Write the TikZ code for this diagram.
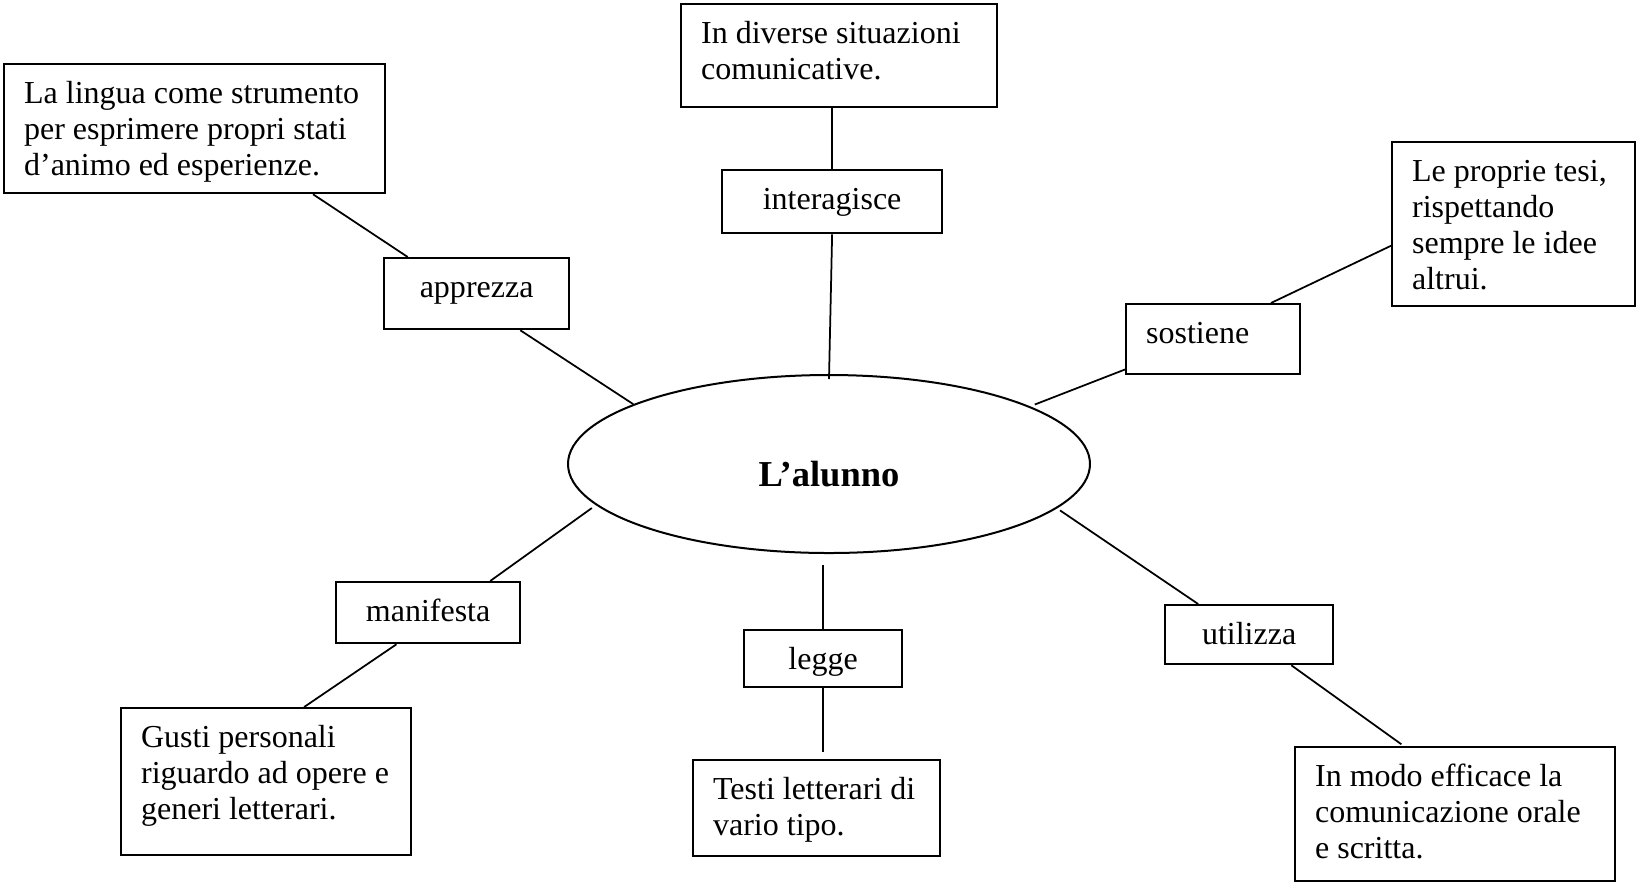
\documentclass[tikz,border=0pt]{standalone}
\usepackage{fontspec}
\setmainfont{Liberation Serif}
\usetikzlibrary{shapes.geometric}
\tikzset{
  txtbox/.style 2 args={draw, line width=0.9pt, anchor=north west, align=flush left,
    inner xsep=8pt, inner ysep=0pt, text width=#1, text height=15.6pt, text depth=#2},
  verbbox/.style 2 args={txtbox={#1}{#2}, align=flush center},
  link/.style={line width=0.7pt}
}
\begin{document}
\begin{tikzpicture}[x=0.4pt, y=-0.4pt, font=\fontsize{12.8}{14.5}\selectfont]
\useasboundingbox (0,0) rectangle (1636,883);
\node[draw, ellipse, line width=0.8pt, minimum width=208.8pt, minimum height=71.2pt, inner sep=0pt,
  font=\fontsize{14.6}{16}\selectfont\bfseries, text height=17.6pt, text depth=0pt] (alunno) at (829,464) {L'alunno};

\node[txtbox={110.4pt}{25.6pt}] (diverse) at (680,3) {In diverse situazioni\\comunicative.};
\node[verbbox={72pt}{9.6pt}] (inter) at (721,169) {interagisce};
\node[txtbox={136.4pt}{36pt}] (lingua) at (3,63) {La lingua come strumento\\per esprimere propri stati\\d'animo ed esperienze.};
\node[verbbox={58pt}{12.8pt}] (apprezza) at (383,257) {apprezza};
\node[txtbox={81.2pt}{50pt}] (tesi) at (1391,141) {Le proprie tesi,\\rispettando\\sempre le idee\\altrui.};
\node[txtbox={53.6pt}{12.4pt}] (sostiene) at (1125,303) {sostiene};
\node[verbbox={57.6pt}{8.8pt}] (manifesta) at (335,581) {manifesta};
\node[txtbox={100pt}{43.2pt}] (gusti) at (120,707) {Gusti personali\\riguardo ad opere e\\generi letterari.};
\node[verbbox={47.2pt}{7.2pt}] (legge) at (743,629) {legge};
\node[txtbox={82.8pt}{22.8pt}] (testi) at (692,759) {Testi letterari di\\vario tipo.};
\node[verbbox={51.2pt}{8pt}] (utilizza) at (1164,604) {utilizza};
\node[txtbox={112pt}{38pt}] (modo) at (1294,746) {In modo efficace la\\comunicazione orale\\e scritta.};

\draw[link] (inter.north) -- (inter.north |- diverse.south);
\draw[link] (inter.south) -- ([yshift=-2pt]alunno.north);
\draw[link] (lingua.-29) -- (apprezza.152);
\draw[link] (apprezza.-40) -- (alunno.163);
\draw[link] (tesi.190) -- (sostiene.32);
\draw[link, shorten >=2pt] (sostiene.199) -- (alunno.16);
\draw[link, shorten <=2pt] (alunno.190) -- (manifesta.27);
\draw[link] (manifesta.225) -- (gusti.63);
\draw[link, shorten <=4.4pt] (legge.north |- alunno.south) -- (legge.north);
\draw[link, shorten >=3pt] (legge.south) -- (legge.south |- testi.north);
\draw[link, shorten <=1.5pt] (alunno.-11) -- (utilizza.149);
\draw[link, shorten >=1.2pt] (utilizza.-36) -- (modo.127);
\end{tikzpicture}
\end{document}
